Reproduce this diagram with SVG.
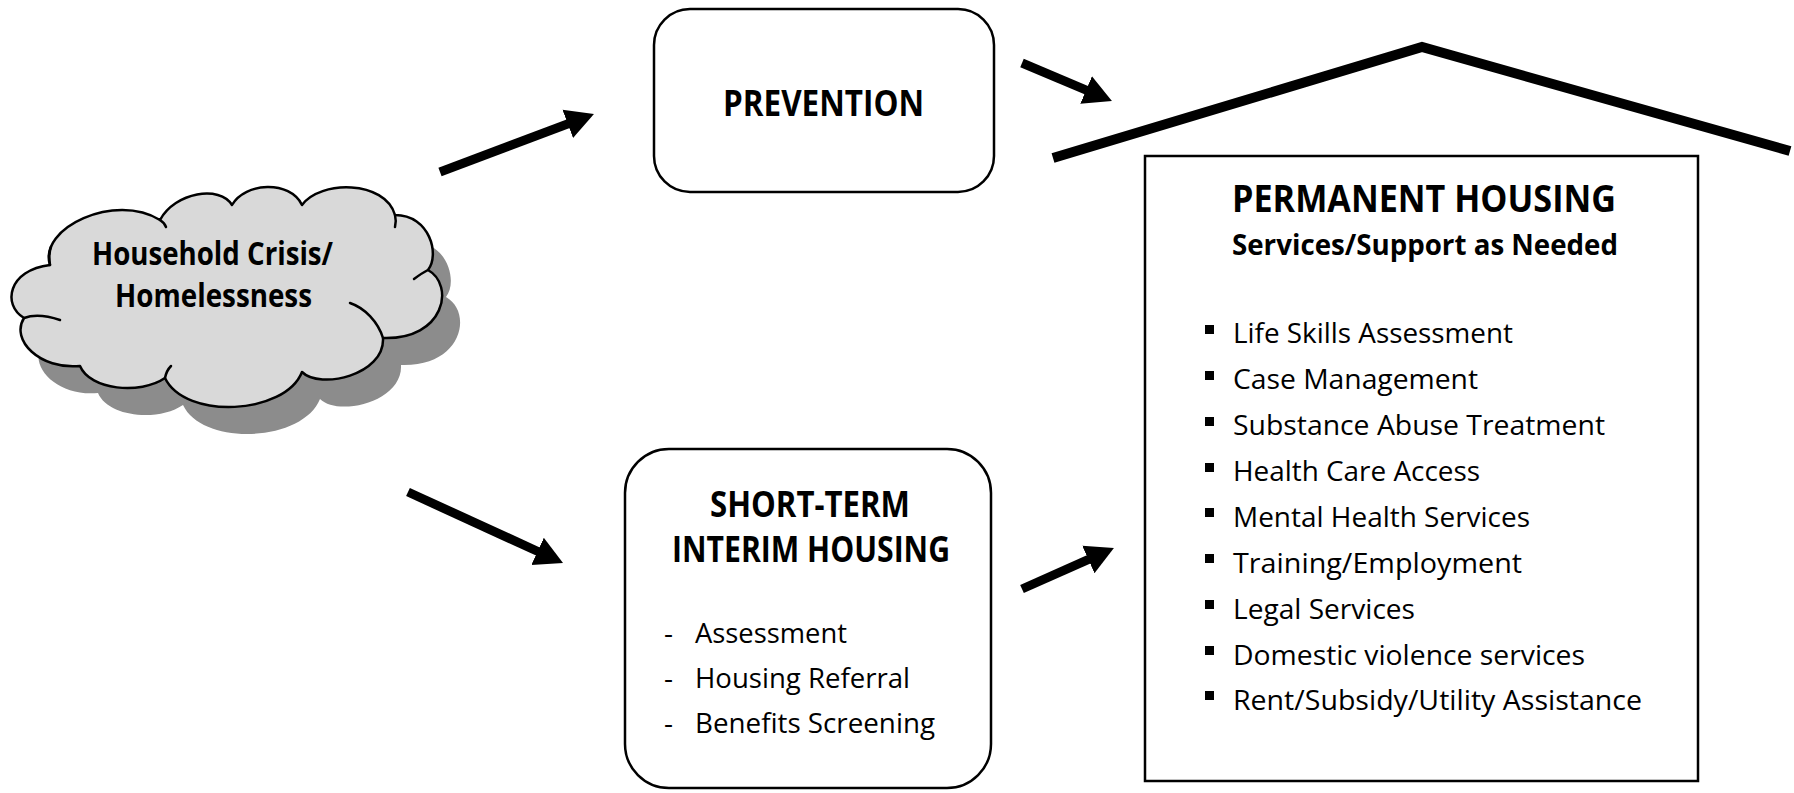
<svg xmlns="http://www.w3.org/2000/svg" width="1794" height="793" viewBox="0 0 1794 793">
<style>
.bx{fill:#fff;stroke:#000;stroke-width:2.5}
.hd{font-family:"Open Sans","Liberation Sans",sans-serif;font-weight:700;fill:#000}
.it{font-family:"Open Sans","Liberation Sans",sans-serif;font-weight:400;font-size:28px;fill:#000}
.ar{stroke:#000;stroke-width:9;fill:none;marker-end:url(#ah)}
.cl{fill:#d9d9d9;stroke:#000;stroke-width:2.5;stroke-linejoin:round}
.cli{fill:none;stroke:#000;stroke-width:2.5;stroke-linecap:round}
</style>
<defs>
<marker id="ah" markerUnits="userSpaceOnUse" viewBox="0 0 28 32" markerWidth="28" markerHeight="32" refX="4" refY="16" orient="auto">
<path d="M0,1 L28,16 L0,31 Z" fill="#000"/>
</marker>
<path id="cloudShape" d="M50,265 C38,228 115,192 160,220 C175,192 220,185 232,205 C245,182 290,180 302,205 C320,180 385,180 395,215 C430,215 440,255 428,270 C455,285 445,340 383,338 C385,375 320,390 302,372 C285,415 185,420 165,378 C140,395 90,390 80,366 C40,370 10,340 24,318 C2,305 8,270 50,265 Z"/>
</defs>
<rect width="1794" height="793" fill="#fff"/>

<g id="cloud">
<use href="#cloudShape" transform="translate(18,27)" fill="#8c8c8c"/>
<use href="#cloudShape" class="cl"/>
<path class="cli" d="M350,303 C365,308 378,322 383,338"/>
<path class="cli" d="M60,320 C45,315 32,315 24,318"/>
<path class="cli" d="M50,265 C49,258 49,252 51,247"/>
<path class="cli" d="M160,220 C163,222 165,224 166,227"/>
<path class="cli" d="M395,215 C396,219 396,223 395,227"/>
<path class="cli" d="M428,270 C422,273 418,276 414,279"/>
<path class="cli" d="M165,378 C166,373 168,369 171,366"/>
<text class="hd" x="212.5" y="265" font-size="32" text-anchor="middle" textLength="241" lengthAdjust="spacingAndGlyphs">Household Crisis/</text>
<text class="hd" x="213.5" y="307" font-size="32" text-anchor="middle" textLength="197" lengthAdjust="spacingAndGlyphs">Homelessness</text>
</g>

<g id="prevention">
<rect class="bx" x="654" y="9" width="340" height="183" rx="36" ry="36"/>
<text class="hd" x="823.5" y="116" font-size="36" text-anchor="middle" textLength="201" lengthAdjust="spacingAndGlyphs">PREVENTION</text>
</g>

<g id="short-term">
<rect class="bx" x="625" y="449" width="366" height="339" rx="44" ry="44"/>
<text class="hd" x="810" y="517" font-size="35" text-anchor="middle" textLength="200" lengthAdjust="spacingAndGlyphs">SHORT-TERM</text>
<text class="hd" x="811" y="562" font-size="35" text-anchor="middle" textLength="278" lengthAdjust="spacingAndGlyphs">INTERIM HOUSING</text>
<text class="it" x="664" y="643">-</text>
<text class="it" x="695" y="643" textLength="152" lengthAdjust="spacingAndGlyphs">Assessment</text>
<text class="it" x="664" y="688">-</text>
<text class="it" x="695" y="688" textLength="215" lengthAdjust="spacingAndGlyphs">Housing Referral</text>
<text class="it" x="664" y="733">-</text>
<text class="it" x="695" y="733" textLength="240" lengthAdjust="spacingAndGlyphs">Benefits Screening</text>
</g>

<g id="permanent-housing">
<polyline points="1053,158 1422,47 1790,151" fill="none" stroke="#000" stroke-width="10" stroke-linejoin="miter"/>
<rect class="bx" x="1145" y="156" width="553" height="625"/>
<text class="hd" x="1424" y="212" font-size="37" text-anchor="middle" textLength="384" lengthAdjust="spacingAndGlyphs">PERMANENT HOUSING</text>
<text class="hd" x="1425" y="255" font-size="29" text-anchor="middle" textLength="386" lengthAdjust="spacingAndGlyphs">Services/Support as Needed</text>
<g fill="#000">
<rect x="1205" y="325" width="9" height="9"/>
<rect x="1205" y="371" width="9" height="9"/>
<rect x="1205" y="417" width="9" height="9"/>
<rect x="1205" y="463" width="9" height="9"/>
<rect x="1205" y="508" width="9" height="9"/>
<rect x="1205" y="554" width="9" height="9"/>
<rect x="1205" y="600" width="9" height="9"/>
<rect x="1205" y="646" width="9" height="9"/>
<rect x="1205" y="691" width="9" height="9"/>
</g>
<text class="it" x="1233" y="343" textLength="280" lengthAdjust="spacingAndGlyphs">Life Skills Assessment</text>
<text class="it" x="1233" y="389" textLength="245" lengthAdjust="spacingAndGlyphs">Case Management</text>
<text class="it" x="1233" y="435" textLength="372" lengthAdjust="spacingAndGlyphs">Substance Abuse Treatment</text>
<text class="it" x="1233" y="481" textLength="247" lengthAdjust="spacingAndGlyphs">Health Care Access</text>
<text class="it" x="1233" y="527" textLength="297" lengthAdjust="spacingAndGlyphs">Mental Health Services</text>
<text class="it" x="1233" y="573" textLength="289" lengthAdjust="spacingAndGlyphs">Training/Employment</text>
<text class="it" x="1233" y="619" textLength="182" lengthAdjust="spacingAndGlyphs">Legal Services</text>
<text class="it" x="1233" y="665" textLength="352" lengthAdjust="spacingAndGlyphs">Domestic violence services</text>
<text class="it" x="1233" y="710" textLength="409" lengthAdjust="spacingAndGlyphs">Rent/Subsidy/Utility Assistance</text>
</g>

<g id="connectors">
<line class="ar" x1="440" y1="172" x2="571.5" y2="122.5"/>
<line class="ar" x1="1022" y1="63" x2="1089.8" y2="91.6"/>
<line class="ar" x1="408" y1="492" x2="541.2" y2="553"/>
<line class="ar" x1="1022" y1="589" x2="1092" y2="557.8"/>
</g>
</svg>
